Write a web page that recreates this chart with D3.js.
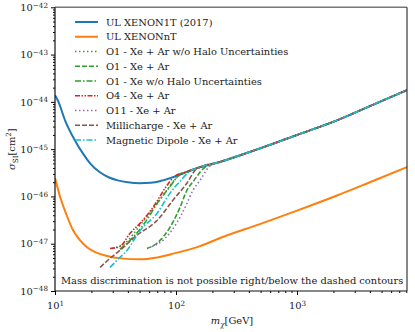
<!DOCTYPE html>
<html>
<head>
<meta charset="UTF-8">
<script src="https://d3js.org/d3.v7.min.js"></script>
<style>
  body { margin: 0; background: #fff; }
  svg text { font-family: "DejaVu Serif", "Liberation Serif", serif; fill: #1a1a1a; }
</style>
</head>
<body>
<svg id="chart" width="415" height="332"></svg>
<script>
// masses in GeV, cross sections as log10(sigma / cm^2)
const blueMass  = [10, 10.6, 12.1, 14.5, 17, 19.5, 23.5, 28, 33, 40, 50, 62, 75, 100, 123, 150, 231, 500, 1000, 2140, 4000, 8110];
const blueSigma = [-43.86, -43.98, -44.39, -44.80, -45.09, -45.30, -45.49, -45.60, -45.66, -45.70, -45.72, -45.71, -45.67, -45.57, -45.48, -45.40, -45.27, -44.98, -44.70, -44.39, -44.09, -43.75];

const orangeMass  = [10, 11, 12.5, 14, 16, 18.5, 22, 27, 35, 50, 70, 95, 158, 231, 500, 1000, 2140, 4000, 8110];
const orangeSigma = [-45.61, -46.00, -46.40, -46.70, -46.92, -47.08, -47.19, -47.26, -47.31, -47.33, -47.29, -47.21, -47.05, -46.88, -46.58, -46.30, -45.98, -45.70, -45.38];

// low-mass part of each contour; above the last point they run on the XENON1T limit
const o1NoHaloMass  = [31.9, 37.9, 50.4, 67, 84, 102];
const o1NoHaloSigma = [-47.08, -46.99, -46.61, -46.21, -45.87, -45.59];
const o1Mass  = [57.5, 69.6, 89.3, 108, 123, 141, 170];
const o1Sigma = [-47.10, -46.99, -46.65, -46.23, -45.87, -45.66, -45.40];
const o1XeMass  = [34.4, 41.7, 55.5, 71.1, 89.3, 108];
const o1XeSigma = [-47.12, -46.93, -46.55, -46.12, -45.79, -45.53];
const o4Mass  = [28.5, 34.4, 41.7, 50.4, 67, 81, 98];
const o4Sigma = [-47.10, -47.06, -46.78, -46.57, -46.17, -45.83, -45.57];
const o11Mass  = [63.4, 81, 102, 121, 138, 158, 190];
const o11Sigma = [-47.06, -46.89, -46.55, -46.19, -45.87, -45.66, -45.36];
const milliMass  = [23.6, 28.5, 34.4, 47.6, 69.6, 94.4, 123, 149];
const milliSigma = [-47.50, -47.31, -47.14, -46.82, -46.51, -46.08, -45.72, -45.41];
const dipoleMass  = [28.5, 33.2, 39.4, 50.4, 69.6, 89.3, 108, 130];
const dipoleSigma = [-47.50, -47.33, -47.14, -46.72, -46.36, -45.93, -45.68, -45.47];

const legendLabels = [
  "UL XENON1T (2017)", "UL XENONnT",
  "O1 - Xe + Ar w/o Halo Uncertainties", "O1 - Xe + Ar", "O1 - Xe w/o Halo Uncertainties",
  "O4 - Xe + Ar", "O11 - Xe + Ar", "Millicharge - Xe + Ar", "Magnetic Dipole - Xe + Ar"
];
const yTickExp = [-48, -47, -46, -45, -44, -43, -42];
const xTickExp = [1, 2, 3];

const svg = d3.select("#chart");
const pLeft = 55, pRight = 407, pTop = 7.3, pBottom = 291;
const fs = 9.9;

const x = d3.scaleLog().domain([10, 8110]).range([pLeft, pRight]);
const y = d3.scaleLog().domain([1e-48, 1e-42]).range([pBottom, pTop]);

const toPts = (ms, ss) => ms.map((m, i) => [m, Math.pow(10, ss[i])]);
const withTail = (ms, ss) => {
  const last = ms[ms.length - 1];
  const tail = blueMass.map((m, i) => [m, blueSigma[i]]).filter(d => d[0] > last * 1.05);
  return toPts(ms.concat(tail.map(d => d[0])), ss.concat(tail.map(d => d[1])));
};

const series = [
  { pts: toPts(blueMass, blueSigma), color: "#1f77b4", dash: null, w: 2 },
  { pts: toPts(orangeMass, orangeSigma), color: "#ff7f0e", dash: null, w: 2 },
  { pts: withTail(o1NoHaloMass, o1NoHaloSigma), color: "#2ca02c", dash: "1.5,2.5", w: 1.6 },
  { pts: withTail(o1Mass, o1Sigma), color: "#2ca02c", dash: "5,2", w: 1.6 },
  { pts: withTail(o1XeMass, o1XeSigma), color: "#2ca02c", dash: "6,2,1.5,2", w: 1.6 },
  { pts: withTail(o4Mass, o4Sigma), color: "#d62728", dash: "5,1.5,1.5,1.5,1.5,1.5", w: 1.6 },
  { pts: withTail(o11Mass, o11Sigma), color: "#9467bd", dash: "1.5,2.5", w: 1.6 },
  { pts: withTail(milliMass, milliSigma), color: "#8c564b", dash: "5,2", w: 1.6 },
  { pts: withTail(dipoleMass, dipoleSigma), color: "#17becf", dash: "6,2,1.5,2", w: 1.6 }
];

svg.append("defs").append("clipPath").attr("id", "clip")
  .append("rect").attr("x", pLeft).attr("y", pTop).attr("width", pRight - pLeft).attr("height", pBottom - pTop);

const line = d3.line().curve(d3.curveMonotoneX).x(d => x(d[0])).y(d => y(d[1]));

svg.append("g").attr("clip-path", "url(#clip)")
  .selectAll("path").data(series).enter().append("path")
  .attr("d", d => line(d.pts))
  .attr("fill", "none")
  .attr("stroke", d => d.color)
  .attr("stroke-width", d => d.w)
  .attr("stroke-dasharray", d => d.dash);

// axes
const supLabel = (sel, exps) => sel.selectAll(".tick text").each(function(d, i) {
  const t = d3.select(this).text(null);
  t.append("tspan").text("10");
  t.append("tspan").attr("dy", "-0.45em").attr("font-size", "7.2px")
    .text(String(exps[i]).replace("-", "\u2212"));
});

const yMinor = [];
for (let e = -48; e < -42; e++) for (let k = 2; k < 10; k++) yMinor.push(k * Math.pow(10, e));
const xMinor = [];
for (let e = 1; e < 4; e++) for (let k = 2; k < 10; k++) if (k * Math.pow(10, e) <= 8110) xMinor.push(k * Math.pow(10, e));

svg.append("g").attr("transform", `translate(${pLeft},0)`)
  .call(d3.axisLeft(y).tickValues(yMinor).tickSize(2).tickFormat(""))
  .call(g => g.select(".domain").remove());
svg.append("g").attr("transform", `translate(0,${pBottom})`)
  .call(d3.axisBottom(x).tickValues(xMinor).tickSize(2).tickFormat(""))
  .call(g => g.select(".domain").remove());

const yAxis = svg.append("g").attr("transform", `translate(${pLeft},0)`)
  .call(d3.axisLeft(y).tickValues(yTickExp.map(e => Math.pow(10, e))).tickSize(4).tickPadding(3))
  .call(g => g.select(".domain").remove());
yAxis.selectAll(".tick text").attr("font-size", fs + "px").attr("font-family", null);
supLabel(yAxis, yTickExp);

const xAxis = svg.append("g").attr("transform", `translate(0,${pBottom})`)
  .call(d3.axisBottom(x).tickValues(xTickExp.map(e => Math.pow(10, e))).tickSize(4).tickPadding(4))
  .call(g => g.select(".domain").remove());
xAxis.selectAll(".tick text").attr("font-size", fs + "px").attr("font-family", null).attr("dy", "1em");
supLabel(xAxis, xTickExp);

// spines
svg.append("line").attr("x1", pLeft).attr("x2", pRight).attr("y1", pTop).attr("y2", pTop)
  .attr("stroke", "#777").attr("stroke-width", 1.6);
svg.append("line").attr("x1", pRight).attr("x2", pRight).attr("y1", pTop).attr("y2", pBottom)
  .attr("stroke", "#111").attr("stroke-width", 1);
svg.append("line").attr("x1", pLeft).attr("x2", pLeft).attr("y1", pTop).attr("y2", pBottom)
  .attr("stroke", "#111").attr("stroke-width", 1.2);
svg.append("line").attr("x1", pLeft).attr("x2", pRight).attr("y1", pBottom).attr("y2", pBottom)
  .attr("stroke", "#111").attr("stroke-width", 1.2);

// legend
const leg = svg.append("g");
legendLabels.forEach((lab, i) => {
  const cy = 22 + i * 14.75;
  const s = series[i];
  leg.append("line").attr("x1", 75).attr("x2", 98).attr("y1", cy).attr("y2", cy)
    .attr("stroke", s.color).attr("stroke-width", s.w).attr("stroke-dasharray", s.dash);
  leg.append("text").attr("x", 106).attr("y", cy + 3.5).attr("font-size", fs + "px").text(lab);
});

// note
svg.append("text").attr("x", 61).attr("y", 284).attr("font-size", fs + "px")
  .text("Mass discrimination is not possible right/below the dashed contours");

// axis titles
const xt = svg.append("text").attr("x", 232).attr("y", 324).attr("text-anchor", "middle").attr("font-size", fs + "px");
xt.append("tspan").attr("font-style", "italic").text("m");
xt.append("tspan").attr("dy", 2.5).attr("font-size", "7.2px").attr("font-style", "italic").text("\u03c7");
xt.append("tspan").attr("dy", -2.5).text("[GeV]");

const yt = svg.append("text").attr("transform", `translate(15,${(pTop + pBottom) / 2}) rotate(-90)`)
  .attr("text-anchor", "middle").attr("font-size", fs + "px");
yt.append("tspan").attr("font-style", "italic").text("\u03c3");
yt.append("tspan").attr("dy", 2.5).attr("font-size", "7.2px").text("SI");
yt.append("tspan").attr("dy", -2.5).text("[cm");
yt.append("tspan").attr("dy", -4).attr("font-size", "7.2px").text("2");
yt.append("tspan").attr("dy", 4).text("]");
</script>
</body>
</html>
